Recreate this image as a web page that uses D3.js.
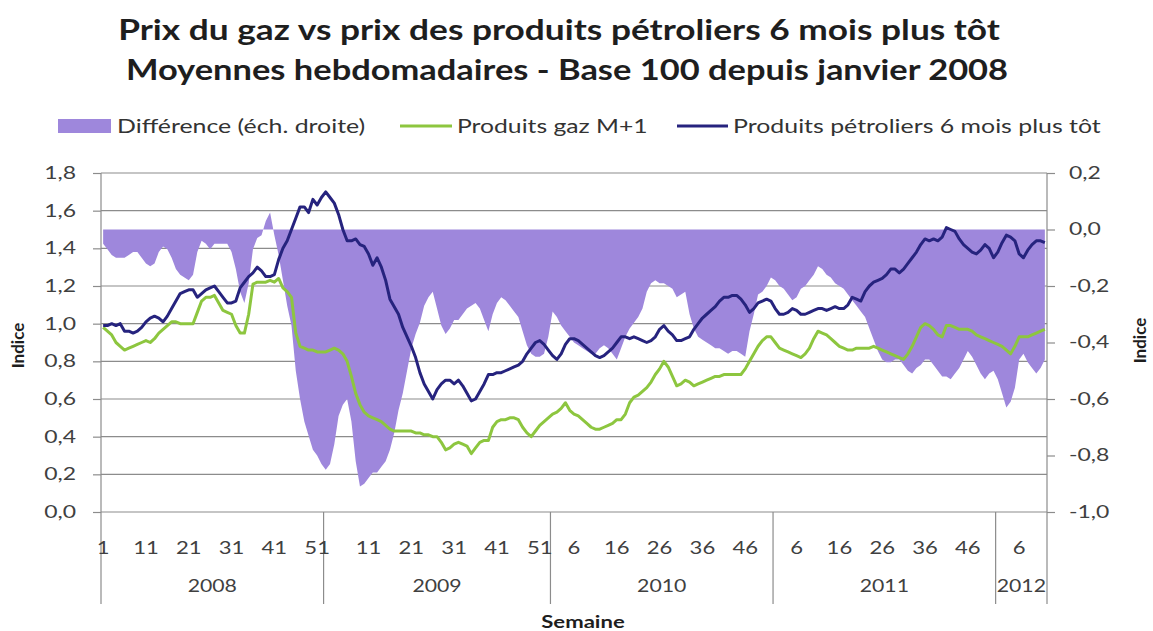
<!DOCTYPE html>
<html lang="fr">
<head>
<meta charset="UTF-8">
<title>Prix du gaz vs prix des produits pétroliers 6 mois plus tôt</title>
<script src="https://cdn.jsdelivr.net/npm/d3@7.9.0/dist/d3.min.js"></script>
<style>
    body {
        margin: 0;
        background: #fff;
        font-family: Lato, "Open Sans", "Liberation Sans", sans-serif;
    }
    svg { display: block; }
    .grid line { stroke: #8c8c8c; stroke-width: 1.2px; }
    .axis-line { stroke: #8c8c8c; stroke-width: 1.2px; }
    .axis .tick line { stroke: #8c8c8c; stroke-width: 1.2px; }
    .axis .tick text, .week-label, .year-label {
        font-size: 17px;
        fill: #404040;
    }
    .title { font-size: 28px; font-weight: bold; fill: #1e1e1e; text-anchor: middle; }
    .legend-text { font-size: 19px; fill: #333; }
    .axis-title { font-size: 17px; font-weight: bold; fill: #1e1e1e; text-anchor: middle; }
</style>
</head>
<body>
<svg id="chart" width="1153" height="631"></svg>

<script>
    // --- Data ---
    const years = [2008, 2009, 2010, 2011, 2012];
    const weeksPerYear = [52, 53, 52, 52, 12];
    const weekLabels = [
        [1, 11, 21, 31, 41, 51],
        [11, 21, 31, 41, 51],
        [6, 16, 26, 36, 46],
        [6, 16, 26, 36, 46],
        [6]
    ];

    // Produits gaz M+1 (left axis)
    const gasValues = [
        // 2008
        0.98, 0.96, 0.94, 0.90, 0.88, 0.86, 0.87, 0.88, 0.89, 0.90,
        0.91, 0.90, 0.92, 0.95, 0.97, 0.99, 1.01, 1.01, 1.00, 1.00,
        1.00, 1.00, 1.06, 1.12, 1.14, 1.14, 1.15, 1.11, 1.07, 1.06,
        1.05, 0.99, 0.95, 0.95, 1.05, 1.21, 1.22, 1.22, 1.22, 1.23,
        1.22, 1.24, 1.19, 1.17, 1.14, 0.95, 0.88, 0.87, 0.86, 0.86,
        0.85, 0.85,
        // 2009
        0.85, 0.86, 0.87, 0.86, 0.84, 0.80, 0.72, 0.63, 0.57, 0.53,
        0.51, 0.50, 0.49, 0.48, 0.46, 0.44, 0.43, 0.43, 0.43, 0.43,
        0.43, 0.42, 0.42, 0.41, 0.41, 0.40, 0.40, 0.37, 0.33, 0.34,
        0.36, 0.37, 0.36, 0.35, 0.31, 0.34, 0.37, 0.38, 0.38, 0.45,
        0.48, 0.49, 0.49, 0.50, 0.50, 0.49, 0.45, 0.42, 0.40, 0.43,
        0.46, 0.48, 0.50,
        // 2010
        0.52, 0.53, 0.55, 0.58, 0.54, 0.52, 0.51, 0.49, 0.47, 0.45,
        0.44, 0.44, 0.45, 0.46, 0.47, 0.49, 0.49, 0.52, 0.58, 0.61,
        0.62, 0.64, 0.66, 0.69, 0.73, 0.76, 0.80, 0.77, 0.72, 0.67,
        0.68, 0.70, 0.69, 0.67, 0.68, 0.69, 0.70, 0.71, 0.72, 0.72,
        0.73, 0.73, 0.73, 0.73, 0.73, 0.76, 0.80, 0.84, 0.88, 0.91,
        0.93, 0.93,
        // 2011
        0.90, 0.87, 0.86, 0.85, 0.84, 0.83, 0.82, 0.84, 0.87, 0.92,
        0.96, 0.95, 0.94, 0.92, 0.90, 0.88, 0.87, 0.86, 0.86, 0.87,
        0.87, 0.87, 0.87, 0.88, 0.87, 0.86, 0.85, 0.84, 0.83, 0.82,
        0.81, 0.84, 0.88, 0.93, 0.98, 1.00, 0.99, 0.97, 0.94, 0.93,
        0.99, 0.99, 0.98, 0.97, 0.97, 0.97, 0.96, 0.94, 0.93, 0.92,
        0.91, 0.90,
        // 2012
        0.89, 0.88, 0.86, 0.84, 0.88, 0.93, 0.93, 0.93, 0.94, 0.95,
        0.96, 0.97
    ];

    // Produits pétroliers 6 mois plus tôt (left axis)
    const oilValues = [
        // 2008
        0.99, 0.99, 1.00, 0.99, 1.00, 0.96, 0.96, 0.95, 0.96, 0.98,
        1.01, 1.03, 1.04, 1.03, 1.01, 1.04, 1.08, 1.12, 1.16, 1.17,
        1.18, 1.18, 1.14, 1.16, 1.18, 1.19, 1.20, 1.17, 1.14, 1.11,
        1.11, 1.12, 1.19, 1.22, 1.25, 1.27, 1.30, 1.28, 1.25, 1.25,
        1.26, 1.34, 1.40, 1.44, 1.50, 1.56, 1.62, 1.62, 1.59, 1.66,
        1.63, 1.67,
        // 2009
        1.70, 1.67, 1.64, 1.58, 1.50, 1.44, 1.44, 1.45, 1.42, 1.41,
        1.37, 1.31, 1.35, 1.30, 1.23, 1.13, 1.09, 1.05, 0.98, 0.93,
        0.88, 0.82, 0.74, 0.68, 0.64, 0.60, 0.65, 0.68, 0.70, 0.70,
        0.68, 0.70, 0.67, 0.63, 0.59, 0.60, 0.64, 0.68, 0.73, 0.73,
        0.74, 0.74, 0.75, 0.76, 0.77, 0.78, 0.80, 0.84, 0.87, 0.90,
        0.91, 0.89, 0.86,
        // 2010
        0.83, 0.81, 0.84, 0.89, 0.92, 0.92, 0.91, 0.89, 0.87, 0.85,
        0.83, 0.82, 0.83, 0.85, 0.87, 0.90, 0.93, 0.93, 0.92, 0.93,
        0.92, 0.91, 0.90, 0.91, 0.93, 0.97, 0.99, 0.96, 0.94, 0.91,
        0.91, 0.92, 0.93, 0.97, 1.00, 1.03, 1.05, 1.07, 1.09, 1.12,
        1.14, 1.14, 1.15, 1.15, 1.13, 1.10, 1.06, 1.08, 1.11, 1.12,
        1.13, 1.12,
        // 2011
        1.08, 1.05, 1.05, 1.06, 1.08, 1.07, 1.05, 1.05, 1.06, 1.07,
        1.08, 1.08, 1.07, 1.08, 1.09, 1.08, 1.08, 1.10, 1.14, 1.13,
        1.12, 1.17, 1.20, 1.22, 1.23, 1.24, 1.26, 1.29, 1.29, 1.27,
        1.29, 1.32, 1.35, 1.38, 1.42, 1.45, 1.44, 1.45, 1.44, 1.46,
        1.51, 1.50, 1.49, 1.45, 1.42, 1.40, 1.38, 1.37, 1.39, 1.42,
        1.40, 1.35,
        // 2012
        1.38, 1.43, 1.47, 1.46, 1.44, 1.37, 1.35, 1.39, 1.42, 1.44,
        1.44, 1.43
    ];

    // Différence (right axis)
    const diffValues = [
        // 2008
        -0.05, -0.07, -0.09, -0.10, -0.10, -0.10, -0.09, -0.08, -0.08, -0.10,
        -0.12, -0.13, -0.12, -0.08, -0.06, -0.07, -0.10, -0.14, -0.16, -0.17,
        -0.18, -0.16, -0.08, -0.04, -0.05, -0.07, -0.05, -0.05, -0.05, -0.05,
        -0.08, -0.14, -0.22, -0.26, -0.19, -0.07, -0.03, -0.02, 0.03, 0.06,
        -0.02, -0.09, -0.18, -0.27, -0.34, -0.50, -0.60, -0.68, -0.73, -0.78,
        -0.80, -0.83,
        // 2009
        -0.85, -0.83, -0.76, -0.66, -0.62, -0.60, -0.68, -0.82, -0.91, -0.90,
        -0.88, -0.86, -0.86, -0.84, -0.82, -0.78, -0.72, -0.64, -0.58, -0.50,
        -0.42, -0.37, -0.33, -0.27, -0.24, -0.22, -0.28, -0.34, -0.37, -0.35,
        -0.32, -0.32, -0.30, -0.28, -0.27, -0.26, -0.28, -0.32, -0.36, -0.30,
        -0.26, -0.24, -0.25, -0.27, -0.29, -0.31, -0.36, -0.41, -0.44, -0.45,
        -0.45, -0.44, -0.38,
        // 2010
        -0.29, -0.31, -0.34, -0.36, -0.38, -0.40, -0.41, -0.42, -0.43, -0.44,
        -0.44, -0.42, -0.41, -0.42, -0.44, -0.46, -0.42, -0.38, -0.35, -0.33,
        -0.31, -0.28, -0.22, -0.19, -0.18, -0.19, -0.19, -0.20, -0.21, -0.24,
        -0.23, -0.22, -0.30, -0.35, -0.38, -0.39, -0.40, -0.41, -0.42, -0.42,
        -0.43, -0.44, -0.43, -0.43, -0.44, -0.45, -0.36, -0.30, -0.23, -0.22,
        -0.20, -0.17,
        // 2011
        -0.18, -0.20, -0.21, -0.23, -0.25, -0.24, -0.21, -0.20, -0.18, -0.16,
        -0.13, -0.14, -0.16, -0.17, -0.19, -0.20, -0.21, -0.23, -0.25, -0.27,
        -0.29, -0.31, -0.35, -0.39, -0.43, -0.46, -0.47, -0.47, -0.46, -0.46,
        -0.48, -0.50, -0.51, -0.49, -0.48, -0.46, -0.46, -0.48, -0.50, -0.52,
        -0.52, -0.53, -0.51, -0.49, -0.46, -0.43, -0.45, -0.48, -0.51, -0.53,
        -0.51, -0.50,
        // 2012
        -0.53, -0.58, -0.63, -0.61, -0.56, -0.46, -0.44, -0.47, -0.49, -0.51,
        -0.49, -0.46
    ];

    const leftTicks = [0, 0.2, 0.4, 0.6, 0.8, 1.0, 1.2, 1.4, 1.6, 1.8];
    const rightTicks = [-1.0, -0.8, -0.6, -0.4, -0.2, 0.0, 0.2];

    const colors = { diff: "#9e87dc", gas: "#8dc63f", oil: "#26237e" };

    // --- Layout ---
    const plot = { left: 101, right: 1047, top: 173, bottom: 512 };
    const catBottom = 604;

    const svg = d3.select("#chart");

    // the source picture is stretched sideways, so text is widened to match
    function stretch(sel, s) {
        sel.each(function () {
            const t = d3.select(this);
            const tx = +t.attr("x") || 0;
            const ty = +t.attr("y") || 0;
            t.attr("x", 0).attr("y", 0)
                .attr("transform", `translate(${tx},${ty}) scale(${s},1)`);
        });
    }

    // French number format: comma decimal, hyphen minus
    const fr = d3.formatLocale({ decimal: ",", thousands: " ", grouping: [3], currency: ["", " €"], minus: "-" });
    const fmt = fr.format(".1f");

    // categories: one per week
    const categories = [];
    years.forEach((yr, k) => {
        for (let w = 1; w <= weeksPerYear[k]; w++) categories.push({ year: yr, week: w });
    });

    const x = d3.scaleBand()
        .domain(d3.range(categories.length))
        .range([plot.left, plot.right])
        .padding(0);
    const cx = i => x(i) + x.bandwidth() / 2;

    const yLeft = d3.scaleLinear().domain([0, 1.8]).range([plot.bottom, plot.top]);
    const yRight = d3.scaleLinear().domain([-1.0, 0.2]).range([plot.bottom, plot.top]);

    // Gridlines
    svg.append("g").attr("class", "grid")
        .selectAll("line")
        .data(leftTicks)
        .enter().append("line")
        .attr("x1", plot.left).attr("x2", plot.right)
        .attr("y1", d => yLeft(d)).attr("y2", d => yLeft(d));

    // Difference area (right axis)
    const area = d3.area()
        .x((d, i) => cx(i))
        .y0(yRight(0))
        .y1(d => yRight(d));

    svg.append("path")
        .datum(diffValues)
        .attr("fill", colors.diff)
        .attr("d", area);

    // Lines (left axis)
    const line = d3.line()
        .x((d, i) => cx(i))
        .y(d => yLeft(d));

    svg.append("path")
        .datum(gasValues)
        .attr("fill", "none")
        .attr("stroke", colors.gas)
        .attr("stroke-width", 3)
        .attr("stroke-linejoin", "round")
        .attr("d", line);

    svg.append("path")
        .datum(oilValues)
        .attr("fill", "none")
        .attr("stroke", colors.oil)
        .attr("stroke-width", 3)
        .attr("stroke-linejoin", "round")
        .attr("d", line);

    // Axes
    const leftAxis = d3.axisLeft(yLeft)
        .tickValues(leftTicks)
        .tickFormat(fmt)
        .tickSize(8)
        .tickSizeOuter(0)
        .tickPadding(17);
    svg.append("g").attr("class", "axis")
        .attr("transform", `translate(${plot.left},0)`)
        .call(leftAxis)
        .call(g => g.select(".domain").remove());

    const rightAxis = d3.axisRight(yRight)
        .tickValues(rightTicks)
        .tickFormat(fmt)
        .tickSize(8)
        .tickSizeOuter(0)
        .tickPadding(14);
    svg.append("g").attr("class", "axis")
        .attr("transform", `translate(${plot.right},0)`)
        .call(rightAxis)
        .call(g => g.select(".domain").remove());

    svg.selectAll(".axis").attr("font-family", null).attr("font-size", null);
    stretch(svg.selectAll(".axis .tick text"), 1.35);

    // Vertical axis lines (extend through category area)
    svg.append("line").attr("class", "axis-line")
        .attr("x1", plot.left).attr("x2", plot.left)
        .attr("y1", plot.top).attr("y2", catBottom);
    svg.append("line").attr("class", "axis-line")
        .attr("x1", plot.right).attr("x2", plot.right)
        .attr("y1", plot.top).attr("y2", catBottom);

    // Multi-level category axis
    let start = 0;
    const yearGroups = years.map((yr, k) => {
        const g = { year: yr, start: start, end: start + weeksPerYear[k], weeks: weekLabels[k] };
        start += weeksPerYear[k];
        return g;
    });

    svg.append("g").selectAll("line")
        .data(yearGroups.slice(1))
        .enter().append("line")
        .attr("class", "axis-line")
        .attr("x1", d => x(d.start)).attr("x2", d => x(d.start))
        .attr("y1", plot.bottom).attr("y2", catBottom);

    const weekTicks = [];
    yearGroups.forEach(g => g.weeks.forEach(w => weekTicks.push(g.start + w - 1)));

    svg.append("g").selectAll("text")
        .data(weekTicks)
        .enter().append("text")
        .attr("class", "week-label")
        .attr("x", d => cx(d))
        .attr("y", 554)
        .attr("text-anchor", "middle")
        .text(d => categories[d].week)
        .call(stretch, 1.3);

    svg.append("g").selectAll("text")
        .data(yearGroups)
        .enter().append("text")
        .attr("class", "year-label")
        .attr("x", d => (x(d.start) + (d.end < categories.length ? x(d.end) : plot.right)) / 2)
        .attr("y", 592)
        .attr("text-anchor", "middle")
        .text(d => d.year)
        .call(stretch, 1.25);

    // Axis titles
    svg.append("text").attr("class", "axis-title")
        .attr("x", 583).attr("y", 628)
        .text("Semaine")
        .call(stretch, 1.3);
    svg.append("text").attr("class", "axis-title")
        .attr("transform", `translate(24,${(plot.top + plot.bottom) / 2 + 3}) rotate(-90)`)
        .text("Indice");
    svg.append("text").attr("class", "axis-title")
        .attr("transform", `translate(1146,${(plot.top + plot.bottom) / 2 - 2}) rotate(-90)`)
        .text("Indice");

    // Title
    svg.append("text").attr("class", "title")
        .attr("x", 559).attr("y", 40)
        .text("Prix du gaz vs prix des produits pétroliers 6 mois plus tôt")
        .call(stretch, 1.26);
    svg.append("text").attr("class", "title")
        .attr("x", 567).attr("y", 80)
        .text("Moyennes hebdomadaires - Base 100 depuis janvier 2008")
        .call(stretch, 1.23);

    // Legend
    const legend = svg.append("g").attr("class", "legend");
    legend.append("rect")
        .attr("x", 58).attr("y", 119).attr("width", 53).attr("height", 14)
        .attr("fill", colors.diff);
    legend.append("text").attr("class", "legend-text")
        .attr("x", 117).attr("y", 133).text("Différence (éch. droite)")
        .call(stretch, 1.31);

    legend.append("line")
        .attr("x1", 400).attr("x2", 452).attr("y1", 126).attr("y2", 126)
        .attr("stroke", colors.gas).attr("stroke-width", 3);
    legend.append("text").attr("class", "legend-text")
        .attr("x", 457).attr("y", 133).text("Produits gaz M+1")
        .call(stretch, 1.3);

    legend.append("line")
        .attr("x1", 677).attr("x2", 728).attr("y1", 126).attr("y2", 126)
        .attr("stroke", colors.oil).attr("stroke-width", 3);
    legend.append("text").attr("class", "legend-text")
        .attr("x", 733).attr("y", 133).text("Produits pétroliers 6 mois plus tôt")
        .call(stretch, 1.31);
</script>
</body>
</html>
